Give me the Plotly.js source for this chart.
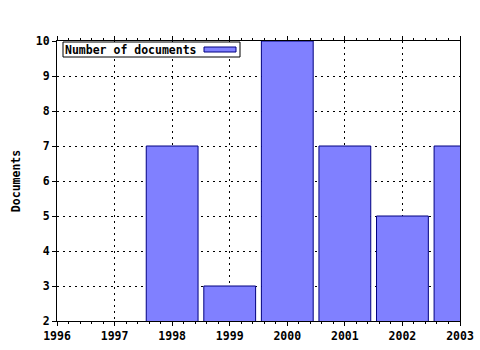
<!DOCTYPE html>
<html><head><meta charset="utf-8">
<script src="https://cdn.plot.ly/plotly-3.0.1.min.js"></script>
<style>html,body{margin:0;padding:0;background:#fff}</style>
</head><body>
<div id="chart" style="width:480px;height:350px"></div>
<script>
const years = [1998, 1999, 2000, 2001, 2002, 2003];
const documents = [7, 3, 10, 7, 5, 7];
const seriesName = 'Number of documents';
const yTitle = 'Documents';

const font = {family: 'DejaVu Sans Mono, monospace', size: 11.5, color: '#000', weight: 'bold'};
const barColor = '#8080ff';
const barLine = '#000080';

const data = [{
  type: 'bar',
  x: years,
  y: documents,
  width: 0.9,
  name: seriesName,
  marker: {color: barColor, line: {color: barLine, width: 1}},
  showlegend: false
}];

const layout = {
  width: 480, height: 350,
  margin: {l: 57, r: 20, t: 41, b: 29, pad: 0},
  paper_bgcolor: '#fff', plot_bgcolor: '#fff',
  font: font,
  showlegend: false,
  xaxis: {
    range: [1996, 2003], dtick: 1, tick0: 1996,
    showline: true, linecolor: '#000', linewidth: 1, mirror: 'allticks',
    ticks: 'outside', ticklen: 4, tickcolor: '#000',
    showgrid: true, gridcolor: '#000', griddash: '2px,4px', gridwidth: 1,
    minor: {dtick: 0.2, ticks: 'outside', ticklen: 2, tickcolor: '#000', showgrid: false},
    zeroline: false, tickfont: font
  },
  yaxis: {
    range: [2, 10], dtick: 1,
    showline: true, linecolor: '#000', linewidth: 1, mirror: true,
    ticks: 'outside', ticklen: 4, tickcolor: '#000',
    showgrid: true, gridcolor: '#000', griddash: '2px,4px', gridwidth: 1,
    zeroline: false, tickfont: font,
    title: {text: yTitle, font: font, standoff: 12}
  },
  shapes: [
    {type: 'rect', xref: 'paper', yref: 'paper',
     x0: 6/403, x1: 183/403, y0: 1 - 16/280, y1: 1 - 1/280,
     fillcolor: '#fff', line: {color: '#000', width: 1}, layer: 'above'},
    {type: 'rect', xref: 'paper', yref: 'paper',
     x0: 147/403, x1: 179/403, y0: 1 - 11/280, y1: 1 - 6/280,
     fillcolor: barColor, line: {color: barLine, width: 1}, layer: 'above'}
  ],
  annotations: [
    {text: seriesName, xref: 'paper', yref: 'paper',
     x: 7/403, y: 1 - 8.5/280, xanchor: 'left', yanchor: 'middle',
     showarrow: false, font: font, borderpad: 0}
  ]
};

Plotly.newPlot('chart', data, layout, {displayModeBar: false, staticPlot: true});
</script>
</body></html>
